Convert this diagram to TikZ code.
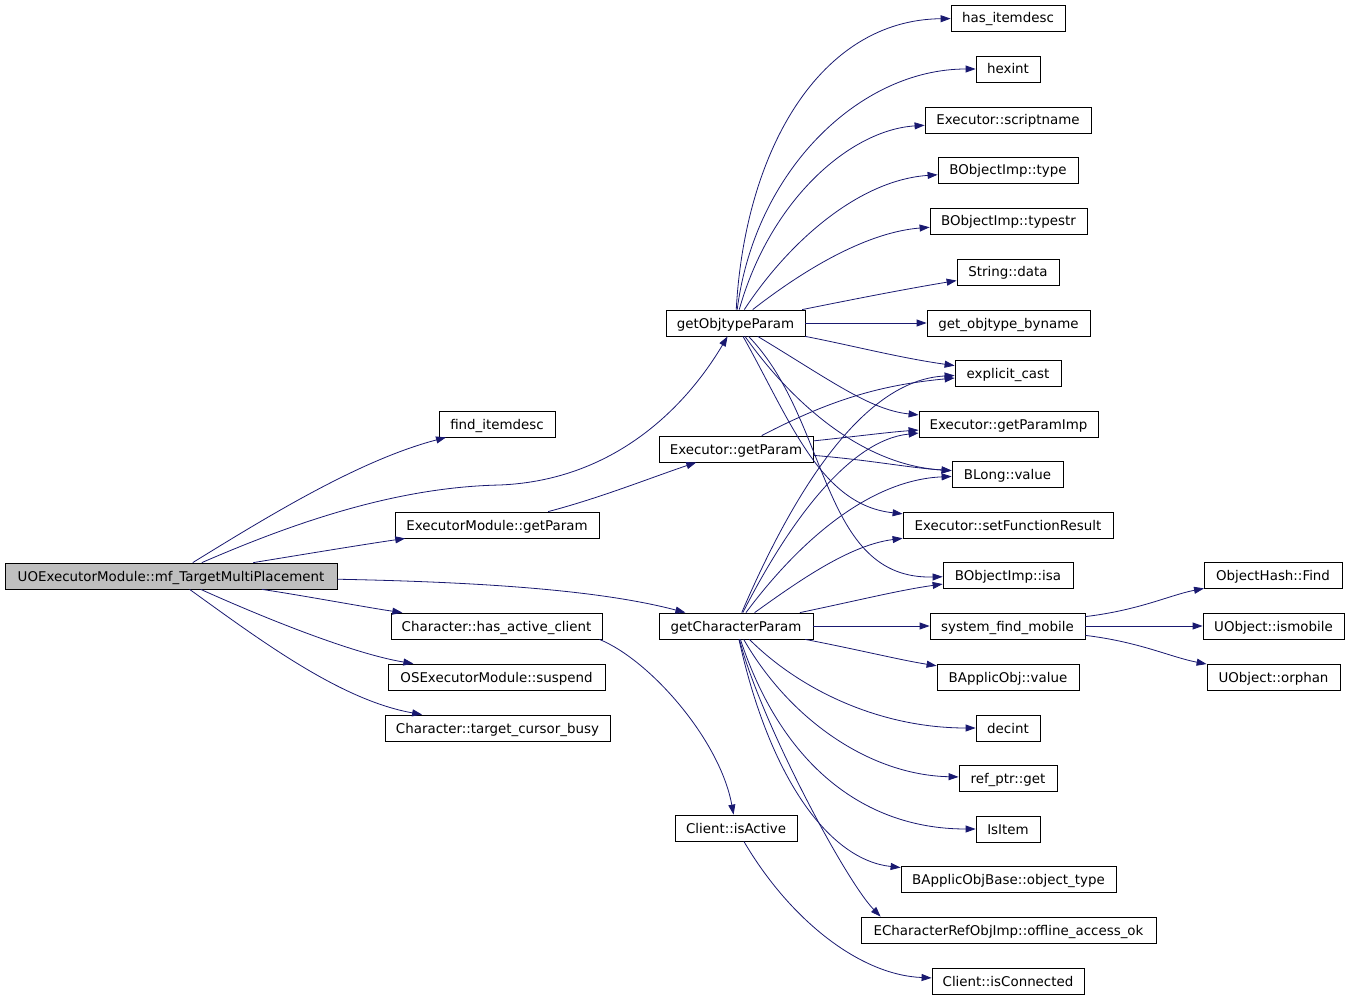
\documentclass[tikz,border=0pt]{standalone}
\usepackage{fontspec}
\setmainfont{DejaVu Sans}
\usetikzlibrary{arrows.meta}
\definecolor{edgeblue}{HTML}{191970}
\definecolor{rootgray}{HTML}{BFBFBF}

\begin{document}
\begin{tikzpicture}[x=1pt,y=-1pt,
  fn/.style={draw=black,line width=0.8pt,minimum height=26pt,inner sep=0pt,
    text height=11pt,text depth=1pt,font=\fontsize{13.4}{15}\selectfont},
  call/.style={draw=edgeblue,line width=0.8pt,-{Triangle[length=10pt,width=7pt]}}]
\useasboundingbox (0,0) rectangle (1349,1000);

% caller
\node[fn,fill=rootgray,minimum width=332pt] (root) at (171,576) {UOExecutorModule::mf\_TargetMultiPlacement};

% first level
\node[fn,minimum width=116pt] (find) at (497,424) {find\_itemdesc};
\node[fn,minimum width=204pt] (emgp) at (497,525) {ExecutorModule::getParam};
\node[fn,minimum width=211pt] (hac) at (496.5,626) {Character::has\_active\_client};
\node[fn,minimum width=217pt] (sus) at (496.5,677) {OSExecutorModule::suspend};
\node[fn,minimum width=225pt] (tcb) at (497.5,728) {Character::target\_cursor\_busy};

% second level
\node[fn,minimum width=139pt] (gop) at (735.5,323) {getObjtypeParam};
\node[fn,minimum width=154pt] (egp) at (736,449) {Executor::getParam};
\node[fn,minimum width=154pt] (gcp) at (736,626) {getCharacterParam};
\node[fn,minimum width=122pt] (cia) at (736,828) {Client::isActive};

% third level
\node[fn,minimum width=114pt] (has) at (1008,18) {has\_itemdesc};
\node[fn,minimum width=64pt] (hex) at (1008,69) {hexint};
\node[fn,minimum width=166pt] (esn) at (1008,120) {Executor::scriptname};
\node[fn,minimum width=140pt] (bit) at (1008,170) {BObjectImp::type};
\node[fn,minimum width=157pt] (bts) at (1008.5,221) {BObjectImp::typestr};
\node[fn,minimum width=102pt] (sdt) at (1008,272) {String::data};
\node[fn,minimum width=163pt] (gob) at (1008.5,323) {get\_objtype\_byname};
\node[fn,minimum width=106pt] (ecs) at (1008,373) {explicit\_cast};
\node[fn,minimum width=179pt] (epi) at (1008.5,424) {Executor::getParamImp};
\node[fn,minimum width=111pt] (blv) at (1007.5,474) {BLong::value};
\node[fn,minimum width=210pt] (sfr) at (1008,525) {Executor::setFunctionResult};
\node[fn,minimum width=130pt] (bis) at (1008,575) {BObjectImp::isa};
\node[fn,minimum width=155pt] (sfm) at (1007.5,626) {system\_find\_mobile};
\node[fn,minimum width=142pt] (bav) at (1008,677) {BApplicObj::value};
\node[fn,minimum width=64pt] (dec) at (1008,728) {decint};
\node[fn,minimum width=98pt] (rpg) at (1008,778) {ref\_ptr::get};
\node[fn,minimum width=64pt] (iit) at (1008,829) {IsItem};
\node[fn,minimum width=215pt] (bob) at (1008.5,879) {BApplicObjBase::object\_type};
\node[fn,minimum width=295pt] (ecr) at (1008.5,930) {ECharacterRefObjImp::offline\_access\_ok};
\node[fn,minimum width=152pt] (cic) at (1008,981) {Client::isConnected};

% fourth level
\node[fn,minimum width=138pt] (ohf) at (1273,575) {ObjectHash::Find};
\node[fn,minimum width=141pt] (uim) at (1273.5,626) {UObject::ismobile};
\node[fn,minimum width=133pt] (uor) at (1273.5,677) {UObject::orphan};

% calls from the caller
\draw[call] (root) .. controls (270,515) and (360,460) .. (find);
\draw[call] (root) .. controls (300,520) and (400,487) .. (500,485) .. controls (620,480) and (690,400) .. (gop);
\draw[call] (root) .. controls (300,555) and (360,545) .. (emgp);
\draw[call] (root) .. controls (480,582) and (600,590) .. (gcp);
\draw[call] (root) .. controls (300,595) and (370,608) .. (hac);
\draw[call] (root) .. controls (280,625) and (360,655) .. (sus);
\draw[call] (root) .. controls (260,640) and (340,700) .. (tcb);

\draw[call] (emgp) .. controls (600,498) and (650,478) .. (egp);
\draw[call] ([xshift=-3pt]hac.south east) .. controls (650,660) and (720,740) .. (cia);
\draw[call] (cia) .. controls (790,920) and (860,975) .. (cic);

% Executor::getParam
\draw[call] (egp) .. controls (830,400) and (880,385) .. (ecs);
\draw[call] (egp) .. controls (860,436) and (890,432) .. (epi);
\draw[call] (egp) .. controls (870,460) and (910,468) .. (blv);

% getObjtypeParam
\draw[call] (gop) .. controls (745,150) and (820,20) .. (has);
\draw[call] (gop) .. controls (755,170) and (860,69) .. (hex);
\draw[call] (gop) .. controls (770,200) and (850,130) .. (esn);
\draw[call] (gop) .. controls (790,240) and (860,180) .. (bit);
\draw[call] (gop) .. controls (810,265) and (870,232) .. (bts);
\draw[call] (gop) .. controls (850,300) and (900,290) .. (sdt);
\draw[call] (gop) -- (gob);
\draw[call] (gop) .. controls (850,345) and (900,358) .. (ecs);
\draw[call] (gop) .. controls (830,380) and (870,410) .. (epi);
\draw[call] (gop) .. controls (790,400) and (860,465) .. (blv);
\draw[call] (gop) .. controls (790,420) and (820,505) .. (sfr);
\draw[call] (gop) .. controls (830,420) and (820,580) .. (bis);

% getCharacterParam
\draw[call] (gcp) .. controls (790,500) and (860,380) .. (ecs);
\draw[call] (gcp) .. controls (790,520) and (850,440) .. (epi);
\draw[call] (gcp) .. controls (800,540) and (870,480) .. (blv);
\draw[call] (gcp) .. controls (800,580) and (850,545) .. (sfr);
\draw[call] (gcp) .. controls (860,600) and (900,590) .. (bis);
\draw[call] (gcp) -- (sfm);
\draw[call] (gcp) .. controls (860,650) and (900,660) .. (bav);
\draw[call] (gcp) .. controls (800,690) and (880,728) .. (dec);
\draw[call] (gcp) .. controls (790,720) and (870,775) .. (rpg);
\draw[call] (gcp) .. controls (780,760) and (860,829) .. (iit);
\draw[call] (gcp) .. controls (770,780) and (830,860) .. (bob);
\draw[call] (gcp) .. controls (760,720) and (845,880) .. ([xshift=20pt]ecr.north west);

% system_find_mobile
\draw[call] (sfm) .. controls (1140,610) and (1170,595) .. (ohf);
\draw[call] (sfm) -- (uim);
\draw[call] (sfm) .. controls (1140,642) and (1170,657) .. (uor);
\end{tikzpicture}
\end{document}
